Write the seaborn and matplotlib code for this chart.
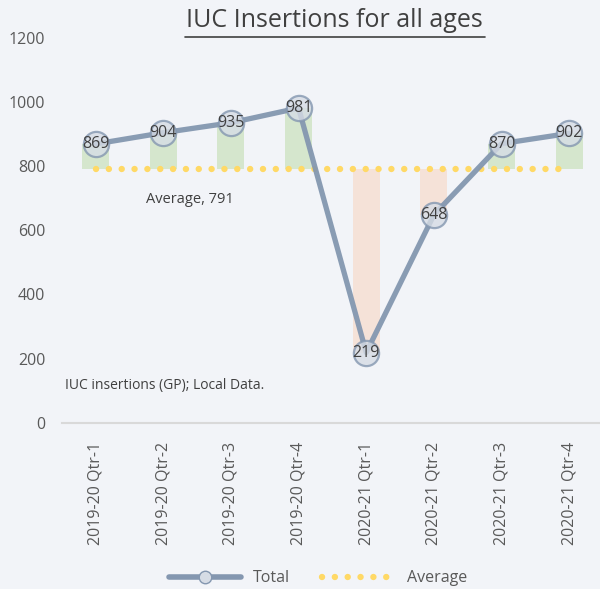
import numpy as np
import pandas as pd
import matplotlib
matplotlib.use("Agg")
import matplotlib.pyplot as plt
from matplotlib.lines import Line2D
import seaborn as sns

# data
quarters = ["2019-20 Qtr-1", "2019-20 Qtr-2", "2019-20 Qtr-3", "2019-20 Qtr-4",
            "2020-21 Qtr-1", "2020-21 Qtr-2", "2020-21 Qtr-3", "2020-21 Qtr-4"]
totals = [869, 904, 935, 981, 219, 648, 870, 902]
average = 791
y_ticks = [0, 200, 400, 600, 800, 1000, 1200]

df = pd.DataFrame({"quarter": quarters, "total": totals})
df["diff"] = df["total"] - average

bg = "#F2F4F8"
line_col = "#8497B0"
text_col = "#595959"
dot_style = (0, (0.01, 2.0))

sns.set_theme(style="white")
plt.rcParams["font.family"] = ["Open Sans", "DejaVu Sans"]

fig = plt.figure(figsize=(6, 5.89), dpi=100, facecolor=bg)
ax = fig.add_axes([0.103, 0.282, 0.902, 0.654])
ax.set_facecolor(bg)

# difference-from-average bars
bar_cols = ["#D5E6CD" if d >= 0 else "#F5E2D8" for d in df["diff"]]
ax.bar(df["quarter"], df["diff"], bottom=average, width=0.4, color=bar_cols,
       edgecolor="none", linewidth=0, zorder=1)

# average line
ax.plot(df["quarter"], [average] * len(df), color="#FFD966", lw=4.6,
        linestyle=dot_style, dash_capstyle="round", zorder=2)
ax.text(1.4, average - 95, f"Average, {average}", ha="center", va="center",
        fontsize=10.5, color="#404040")

# total line
sns.lineplot(data=df, x="quarter", y="total", ax=ax, color=line_col, lw=3.8,
             alpha=0.95, sort=False, zorder=3)
ax.scatter(df["quarter"], df["total"], s=330, facecolor="#D6DCE5", alpha=0.8,
           edgecolor=line_col, linewidth=1.6, zorder=4)
for q, v in zip(df["quarter"], df["total"]):
    ax.text(q, v, str(v), ha="center", va="center", fontsize=11.5, color="#404040", zorder=5)

ax.text(-0.45, 115, "IUC insertions (GP); Local Data.", ha="left", va="center",
        fontsize=10, color="#404040")

ax.set_ylim(0, 1200)
ax.set_xlim(-0.5, 7.5)
ax.set_yticks(y_ticks)
ax.set_yticklabels([str(t) for t in y_ticks], color=text_col, fontsize=11.5)
ax.tick_params(axis="x", labelrotation=90, labelsize=11.5, colors=text_col, length=0, pad=14)
ax.tick_params(axis="y", length=0, pad=12)
ax.set_xlabel("")
ax.set_ylabel("")
for s in ["top", "right", "left"]:
    ax.spines[s].set_visible(False)
ax.spines["bottom"].set_color("#D9D9D9")
ax.spines["bottom"].set_linewidth(1.5)

fig.text(0.558, 0.966, "IUC Insertions for all ages", ha="center", va="center",
         fontsize=18, color="#404040")
fig.add_artist(Line2D([0.308, 0.808], [0.938, 0.938], color="#404040", lw=1.2))

handles = [
    Line2D([], [], color=line_col, lw=4, marker="o", markersize=9,
           markerfacecolor="#D6DCE5", markeredgecolor=line_col),
    Line2D([], [], color="#FFD966", lw=4.6, linestyle=dot_style, dash_capstyle="round"),
]
fig.legend(handles, ["Total", "Average"], loc="center", bbox_to_anchor=(0.53, 0.018),
           ncol=2, frameon=False, fontsize=11.5, handlelength=4.5, columnspacing=2,
           labelcolor=text_col)

fig.savefig("out.png", dpi=100, facecolor=bg)
